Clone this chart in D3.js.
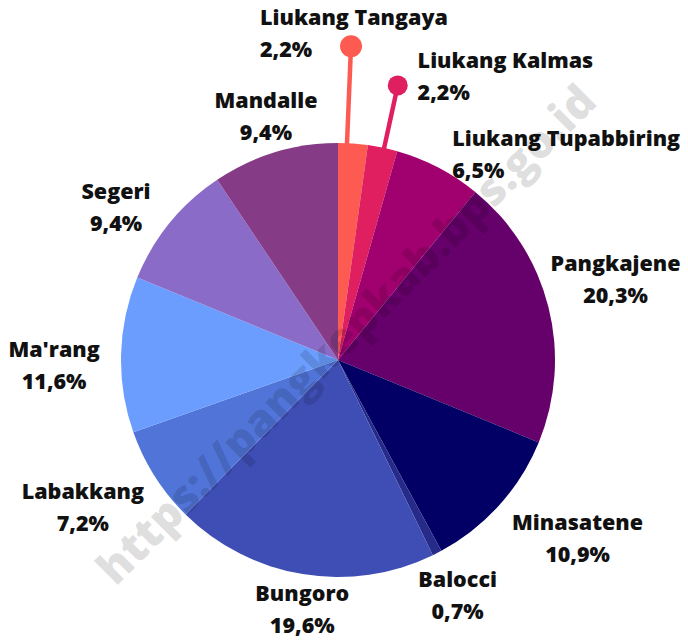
<!DOCTYPE html>
<html>
<head>
<meta charset="utf-8">
<script src="https://cdn.jsdelivr.net/npm/d3@7"></script>
<style>
  body { margin: 0; background: #fff; }
  svg text { font-family: "Open Sans", sans-serif; font-weight: 800; fill: #111; }
</style>
</head>
<body>
<svg id="chart" width="688" height="640"></svg>
<script>
// Kecamatan names and their share (%), clockwise from the top.
const districts = ["Liukang Tangaya", "Liukang Kalmas", "Liukang Tupabbiring", "Pangkajene",
  "Minasatene", "Balocci", "Bungoro", "Labakkang", "Ma'rang", "Segeri", "Mandalle"];
const shares = [2.2, 2.2, 6.5, 20.3, 10.9, 0.7, 19.6, 7.2, 11.6, 9.4, 9.4];
const sliceColors = ["#fd5a52", "#e01f60", "#a1006f", "#66006b", "#020064", "#262b8a",
  "#3f4eb4", "#5174d9", "#6b9dfe", "#8a6cc8", "#853b86"];

// Label placement tweaks (dx, dy, anchor) relative to the label arc.
const labelNudge = {
  "Liukang Tangaya": [-97, -53, "start"],
  "Liukang Kalmas": [23, -15, "start"],
  "Liukang Tupabbiring": [-13, 37, "start"],
  "Pangkajene": [11, -14, "middle"],
  "Minasatene": [35, -6, "middle"],
  "Balocci": [-6, -10, "middle"],
  "Bungoro": [9, -23, "middle"],
  "Labakkang": [-23, -1, "middle"],
  "Ma'rang": [-9, 11, "middle"],
  "Segeri": [-9, 20, "middle"],
  "Mandalle": [8, 19, "middle"]
};
// Pins for the two tiny slices: position inside slice (0..1), dot radius distance, dot size.
const pins = { "Liukang Tangaya": [0.3, 314, 11], "Liukang Kalmas": [0.55, 281, 10] };

const data = districts.map((name, i) => ({ name: name, value: shares[i], color: sliceColors[i] }));

const svg = d3.select("#chart");
const cx = 338, cy = 360, radius = 217;
const g = svg.append("g").attr("transform", `translate(${cx},${cy})`);

// Build the pie, no sorting so order stays as listed.
const pie = d3.pie().sort(null).value(d => d.value);
const arcs = pie(data);
const arc = d3.arc().innerRadius(0).outerRadius(radius);
const labelArc = d3.arc().innerRadius(275).outerRadius(275);

g.selectAll("path.slice")
  .data(arcs)
  .enter()
  .append("path")
  .attr("class", "slice")
  .attr("d", arc)
  .attr("fill", d => d.data.color);

// Pin lines and dots for the small slices.
arcs.filter(d => pins[d.data.name]).forEach(function (d) {
  const p = pins[d.data.name];
  const a = d.startAngle + p[0] * (d.endAngle - d.startAngle);
  const x0 = Math.sin(a) * (radius - 4), y0 = -Math.cos(a) * (radius - 4);
  const x1 = Math.sin(a) * p[1], y1 = -Math.cos(a) * p[1];
  g.append("line")
    .attr("x1", x0).attr("y1", y0).attr("x2", x1).attr("y2", y1)
    .attr("stroke", d.data.color).attr("stroke-width", 4.5);
  g.append("circle")
    .attr("cx", x1).attr("cy", y1).attr("r", p[2])
    .attr("fill", d.data.color);
});

// Labels: name and percentage on two lines.
const fmt = v => v.toFixed(1).replace(".", ",") + "%";
const labels = g.selectAll("g.label")
  .data(arcs)
  .enter()
  .append("g")
  .attr("class", "label")
  .attr("transform", function (d) {
    const c = labelArc.centroid(d);
    const n = labelNudge[d.data.name];
    return `translate(${c[0] + n[0]},${c[1] + n[1]})`;
  });

labels.append("text")
  .attr("y", -16)
  .attr("dominant-baseline", "central")
  .attr("text-anchor", d => labelNudge[d.data.name][2])
  .style("font-size", "21.5px")
  .text(d => d.data.name);

labels.append("text")
  .attr("y", 16)
  .attr("dominant-baseline", "central")
  .attr("text-anchor", d => labelNudge[d.data.name][2])
  .style("font-size", "21.5px")
  .text(d => fmt(d.data.value));

// Watermark across the chart.
svg.append("text")
  .attr("transform", "translate(345,333) rotate(-45)")
  .attr("text-anchor", "middle")
  .attr("dominant-baseline", "central")
  .style("font-size", "45px")
  .style("font-weight", "800")
  .style("fill", "#000")
  .style("fill-opacity", 0.13)
  .text("https://pangkepkab.bps.go.id");
</script>
</body>
</html>
